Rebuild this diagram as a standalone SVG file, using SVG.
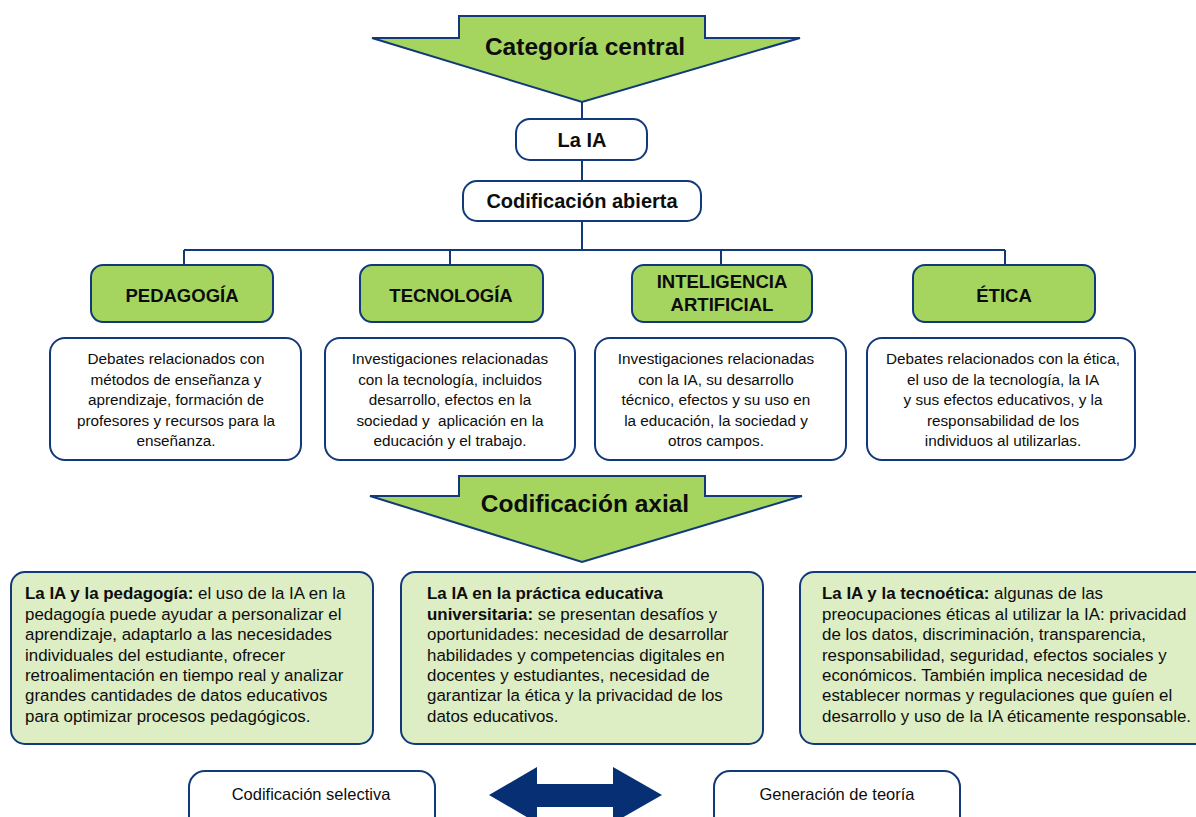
<svg xmlns="http://www.w3.org/2000/svg" width="1196" height="817" viewBox="0 0 1196 817">
  <style>
    .bg { fill: #ffffff; }
    .arrow { fill: #a5d55f; stroke: #12397a; stroke-width: 2; stroke-linejoin: miter; }
    .box { fill: #ffffff; stroke: #12397a; stroke-width: 2; }
    .head { fill: #a5d55f; stroke: #12397a; stroke-width: 2; }
    .note { fill: #ddedc4; stroke: #12397a; stroke-width: 2; }
    .link { fill: none; stroke: #12397a; stroke-width: 2; }
    .dbl { fill: #062f74; }
    text { font-family: "Liberation Sans", Arial, sans-serif; fill: #0d0d0d; }
    .big { font-size: 24.5px; font-weight: bold; text-anchor: middle; }
    .mid { font-size: 20px; font-weight: bold; text-anchor: middle; }
    .hd { font-size: 18.5px; font-weight: bold; text-anchor: middle; }
    .desc { font-size: 15.3px; text-anchor: middle; }
    .body { font-size: 16.9px; }
    .body tspan.b { font-weight: bold; }
    .lbl { font-size: 16.5px; text-anchor: middle; }
  </style>

  <rect class="bg" x="0" y="0" width="1196" height="817"/>

  <!-- connectors -->
  <g id="connectors">
    <path class="link" d="M582 102 V119 M582 160 V181 M582 221 V250 M184 250 H1005 M184 250 V265 M450 250 V265 M721 250 V265 M1005 250 V265"/>
  </g>

  <!-- block arrow: central category -->
  <g id="categoria-central">
    <polygon class="arrow" points="459,16 705,16 705,38 800,38 582,102 372,38 459,38"/>
    <text class="big" x="585" y="55">Categoría central</text>
  </g>

  <g id="la-ia">
    <rect class="box" x="516" y="119" width="131" height="41" rx="14"/>
    <text class="mid" x="582" y="147">La IA</text>
  </g>

  <g id="codificacion-abierta">
    <rect class="box" x="463" y="181" width="238" height="40" rx="14"/>
    <text class="mid" x="582" y="208">Codificación abierta</text>
  </g>

  <!-- category headers -->
  <g id="pedagogia">
    <rect class="head" x="91" y="265" width="182" height="57" rx="12"/>
    <text class="hd" x="182" y="302">PEDAGOGÍA</text>
  </g>
  <g id="tecnologia">
    <rect class="head" x="360" y="265" width="183" height="57" rx="12"/>
    <text class="hd" x="451" y="302">TECNOLOGÍA</text>
  </g>
  <g id="inteligencia-artificial">
    <rect class="head" x="632" y="265" width="180" height="57" rx="12"/>
    <text class="hd" x="722" y="288">INTELIGENCIA</text>
    <text class="hd" x="722" y="311">ARTIFICIAL</text>
  </g>
  <g id="etica">
    <rect class="head" x="913" y="265" width="182" height="57" rx="12"/>
    <text class="hd" x="1004" y="302">ÉTICA</text>
  </g>

  <!-- category descriptions -->
  <g id="desc-pedagogia">
    <rect class="box" x="50" y="338" width="251" height="122" rx="15"/>
    <text class="desc" x="176" y="364">Debates relacionados con</text>
    <text class="desc" x="176" y="385">métodos de enseñanza y</text>
    <text class="desc" x="176" y="405">aprendizaje, formación de</text>
    <text class="desc" x="176" y="426">profesores y recursos para la</text>
    <text class="desc" x="176" y="446">enseñanza.</text>
  </g>
  <g id="desc-tecnologia">
    <rect class="box" x="325" y="338" width="250" height="122" rx="15"/>
    <text class="desc" x="450" y="364">Investigaciones relacionadas</text>
    <text class="desc" x="450" y="385">con la tecnología, incluidos</text>
    <text class="desc" x="450" y="405">desarrollo, efectos en la</text>
    <text class="desc" x="450" y="426" xml:space="preserve">sociedad y  aplicación en la</text>
    <text class="desc" x="450" y="446">educación y el trabajo.</text>
  </g>
  <g id="desc-ia">
    <rect class="box" x="595" y="338" width="251" height="122" rx="15"/>
    <text class="desc" x="716" y="364">Investigaciones relacionadas</text>
    <text class="desc" x="716" y="385">con la IA, su desarrollo</text>
    <text class="desc" x="716" y="405">técnico, efectos y su uso en</text>
    <text class="desc" x="716" y="426">la educación, la sociedad y</text>
    <text class="desc" x="716" y="446">otros campos.</text>
  </g>
  <g id="desc-etica">
    <rect class="box" x="867" y="338" width="268" height="122" rx="15"/>
    <text class="desc" x="1003" y="364">Debates relacionados con la ética,</text>
    <text class="desc" x="1003" y="385">el uso de la tecnología, la IA</text>
    <text class="desc" x="1003" y="405">y sus efectos educativos, y la</text>
    <text class="desc" x="1003" y="426">responsabilidad de los</text>
    <text class="desc" x="1003" y="446">individuos al utilizarlas.</text>
  </g>

  <!-- block arrow: axial coding -->
  <g id="codificacion-axial">
    <polygon class="arrow" points="459,476 705,476 705,496 802,496 582,562 370,496 459,496"/>
    <text class="big" x="585" y="512">Codificación axial</text>
  </g>

  <!-- axial themes -->
  <g id="ia-pedagogia">
    <rect class="note" x="11" y="572" width="362" height="172" rx="14"/>
    <text class="body" x="25" y="599"><tspan class="b">La IA y la pedagogía:</tspan> el uso de la IA en la</text>
    <text class="body" x="25" y="619.5">pedagogía puede ayudar a personalizar el</text>
    <text class="body" x="25" y="640">aprendizaje, adaptarlo a las necesidades</text>
    <text class="body" x="25" y="660.5">individuales del estudiante, ofrecer</text>
    <text class="body" x="25" y="681">retroalimentación en tiempo real y analizar</text>
    <text class="body" x="25" y="701">grandes cantidades de datos educativos</text>
    <text class="body" x="25" y="721.5">para optimizar procesos pedagógicos.</text>
  </g>
  <g id="ia-practica">
    <rect class="note" x="401" y="572" width="362" height="172" rx="14"/>
    <text class="body" x="427" y="599"><tspan class="b">La IA en la práctica educativa</tspan></text>
    <text class="body" x="427" y="619.5"><tspan class="b">universitaria:</tspan> se presentan desafíos y</text>
    <text class="body" x="427" y="640">oportunidades: necesidad de desarrollar</text>
    <text class="body" x="427" y="660.5">habilidades y competencias digitales en</text>
    <text class="body" x="427" y="681">docentes y estudiantes, necesidad de</text>
    <text class="body" x="427" y="701">garantizar la ética y la privacidad de los</text>
    <text class="body" x="427" y="721.5">datos educativos.</text>
  </g>
  <g id="ia-tecnoetica">
    <rect class="note" x="800" y="572" width="420" height="172" rx="14"/>
    <text class="body" x="822" y="599"><tspan class="b">La IA y la tecnoética:</tspan> algunas de las</text>
    <text class="body" x="822" y="619.5">preocupaciones éticas al utilizar la IA: privacidad</text>
    <text class="body" x="822" y="640">de los datos, discriminación, transparencia,</text>
    <text class="body" x="822" y="660.5">responsabilidad, seguridad, efectos sociales y</text>
    <text class="body" x="822" y="681">económicos. También implica necesidad de</text>
    <text class="body" x="822" y="701">establecer normas y regulaciones que guíen el</text>
    <text class="body" x="822" y="721.5">desarrollo y uso de la IA éticamente responsable.</text>
  </g>

  <!-- final stage -->
  <g id="codificacion-selectiva">
    <rect class="box" x="189" y="771" width="246" height="70" rx="16"/>
    <text class="lbl" x="311" y="800">Codificación selectiva</text>
  </g>
  <g id="doble-flecha">
    <polygon class="dbl" points="489,795 537,767 537,784 613,784 613,767 662,795 613,823 613,807 537,807 537,823"/>
  </g>
  <g id="generacion-teoria">
    <rect class="box" x="714" y="771" width="246" height="70" rx="16"/>
    <text class="lbl" x="837" y="800">Generación de teoría</text>
  </g>
</svg>
